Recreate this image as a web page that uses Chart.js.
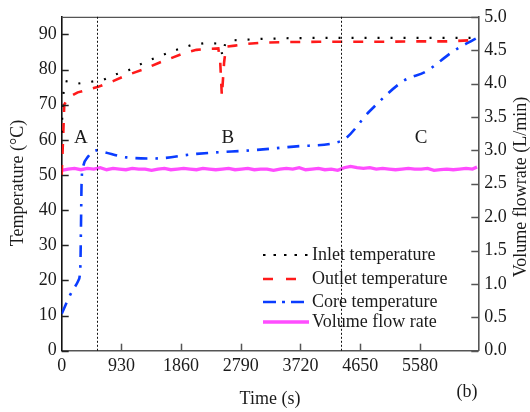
<!DOCTYPE html>
<html>
<head>
<meta charset="utf-8">
<script src="https://cdn.jsdelivr.net/npm/chart.js@4/dist/chart.umd.min.js"></script>
<style>
  html, body { margin: 0; padding: 0; background: #fff; }
  #wrap { width: 530px; height: 412px; position: relative; }
</style>
</head>
<body>
<div id="wrap"><canvas id="c" width="530" height="412"></canvas></div>
<script>
// Time axis ticks (s)
const timeTicks = [0, 930, 1860, 2790, 3720, 4650, 5580];
const tempTicks = [0, 10, 20, 30, 40, 50, 60, 70, 80, 90];
const flowTicks = [0, 0.5, 1, 1.5, 2, 2.5, 3, 3.5, 4, 4.5, 5];

// Inlet temperature (°C)
const inletTime = [0, 15, 35, 60, 250, 450, 650, 840, 1040, 1250, 1440, 1640, 1830, 2030, 2220, 2420, 2470, 2505, 2550, 2660, 2890, 3100, 3500, 4000, 4500, 5000, 5500, 6000, 6470];
const inletTemp = [62, 70, 75, 76.7, 76.0, 76.5, 77.1, 78.6, 79.8, 81.7, 83.2, 84.6, 85.9, 87.0, 87.5, 87.4, 86.5, 84.0, 87.6, 88.3, 88.5, 88.7, 88.9, 89.0, 89.0, 89.0, 89.0, 89.0, 89.0];

// Outlet temperature (°C)
const outletTime = [0, 10, 25, 40, 100, 250, 555, 800, 1000, 1270, 1500, 1700, 1900, 2100, 2300, 2440, 2470, 2495, 2530, 2560, 2700, 2900, 3100, 3500, 4000, 4500, 5000, 5500, 6000, 6470];
const outletTemp = [50, 55, 62, 70, 72, 73.5, 75, 76.7, 78.3, 80, 81.8, 83.2, 84.6, 85.6, 85.9, 86.0, 82, 72.5, 82, 86.5, 86.8, 87.3, 87.6, 87.8, 87.9, 87.9, 87.9, 88.0, 88.0, 88.4];

// Core temperature (°C)
const coreTime = [0, 130, 260, 290, 300, 310, 330, 415, 545, 675, 1010, 1450, 2100, 3090, 3700, 4356, 4800, 5320, 5680, 6100, 6420, 6470];
const coreTemp = [10.5, 15.8, 20, 23.5, 35, 48, 52, 55.3, 57, 56.4, 55, 54.7, 56, 57.2, 58.2, 59.7, 68.2, 76.7, 79.5, 85.2, 88.5, 89];

// Volume flow rate (L/min)
const flowTime = [0, 100, 200, 300, 400, 500, 600, 700, 800, 900, 1000, 1100, 1200, 1300, 1400, 1500, 1600, 1700, 1800, 1900, 2000, 2100, 2200, 2300, 2400, 2500, 2600, 2700, 2800, 2900, 3000, 3100, 3200, 3300, 3400, 3500, 3600, 3700, 3800, 3900, 4000, 4100, 4200, 4300, 4400, 4500, 4600, 4700, 4800, 4900, 5000, 5100, 5200, 5300, 5400, 5500, 5600, 5700, 5800, 5900, 6000, 6100, 6200, 6300, 6400, 6470];
const flowRate = [2.70, 2.72, 2.73, 2.71, 2.73, 2.72, 2.74, 2.71, 2.73, 2.72, 2.71, 2.73, 2.72, 2.72, 2.70, 2.72, 2.73, 2.71, 2.72, 2.73, 2.72, 2.71, 2.73, 2.72, 2.71, 2.72, 2.73, 2.71, 2.72, 2.73, 2.71, 2.72, 2.72, 2.70, 2.72, 2.73, 2.72, 2.74, 2.71, 2.72, 2.73, 2.71, 2.72, 2.70, 2.74, 2.76, 2.74, 2.73, 2.74, 2.72, 2.73, 2.72, 2.71, 2.72, 2.73, 2.72, 2.72, 2.73, 2.70, 2.71, 2.72, 2.71, 2.72, 2.73, 2.72, 2.75];

// Stage boundaries (s) and stage labels
const stageBounds = [555, 4356];
const stageLabels = [
  { text: 'A', t: 300, v: 60.5 },
  { text: 'B', t: 2590, v: 60.5 },
  { text: 'C', t: 5600, v: 60.5 }
];

const FONT = '"Liberation Serif", "DejaVu Serif", serif';
const TXT = '#1b1b1b';

const pts = (xs, ys) => xs.map((x, i) => ({ x, y: ys[i] }));

const decor = {
  id: 'decor',
  afterDatasetsDraw(chart) {
    const { ctx, chartArea: a, scales } = chart;
    const x = scales.x, y = scales.y, y2 = scales.y2;
    ctx.save();
    // top frame line
    ctx.strokeStyle = '#555';
    ctx.lineWidth = 1.2;
    ctx.beginPath(); ctx.moveTo(a.left, a.top + 0.5); ctx.lineTo(a.right, a.top + 0.5); ctx.stroke();

    // inward ticks
    ctx.lineWidth = 1.5;
    ctx.strokeStyle = '#555';
    timeTicks.forEach(t => {
      if (t === 0) return;
      const px = Math.round(x.getPixelForValue(t)) + 0.5;
      ctx.beginPath(); ctx.moveTo(px, a.bottom); ctx.lineTo(px, a.bottom - 7); ctx.stroke();
    });
    ctx.strokeStyle = '#222';
    tempTicks.forEach(v => {
      const py = Math.round(y.getPixelForValue(v)) + 0.5;
      ctx.beginPath(); ctx.moveTo(a.left, py); ctx.lineTo(a.left + 7, py); ctx.stroke();
    });
    ctx.strokeStyle = '#555';
    flowTicks.forEach(v => {
      const py = Math.round(y2.getPixelForValue(v)) + 0.5;
      ctx.beginPath(); ctx.moveTo(a.right, py); ctx.lineTo(a.right - 7, py); ctx.stroke();
    });

    // stage boundaries
    ctx.strokeStyle = '#111';
    ctx.lineWidth = 1;
    ctx.setLineDash([2, 2]);
    stageBounds.forEach(t => {
      const px = Math.round(x.getPixelForValue(t)) + 0.5;
      ctx.beginPath(); ctx.moveTo(px, a.top); ctx.lineTo(px, a.bottom); ctx.stroke();
    });
    ctx.setLineDash([]);

    // stage labels
    ctx.fillStyle = TXT;
    ctx.font = '19px ' + FONT;
    ctx.textAlign = 'center';
    ctx.textBaseline = 'middle';
    stageLabels.forEach(l => {
      ctx.fillText(l.text, x.getPixelForValue(l.t), y.getPixelForValue(l.v));
    });

    // legend
    ctx.font = '18px ' + FONT;
    ctx.textAlign = 'left';
    ctx.textBaseline = 'middle';
    const rows = [255, 279, 302, 322];
    chart.data.datasets.forEach((ds, i) => {
      const ry = rows[i];
      ctx.strokeStyle = ds.borderColor;
      ctx.lineWidth = ds.borderWidth;
      ctx.setLineDash(ds.legendDash || []);
      ctx.lineCap = 'butt';
      ctx.beginPath(); ctx.moveTo(263, ry); ctx.lineTo(309, ry); ctx.stroke();
      ctx.setLineDash([]);
      ctx.fillStyle = TXT;
      ctx.fillText(ds.label, 312, ry);
    });

    // axis titles
    ctx.font = '18px ' + FONT;
    ctx.textAlign = 'center';
    ctx.fillText('Time (s)', 270, 399);
    ctx.fillText('(b)', 467, 392);
    ctx.save();
    ctx.translate(18, 183);
    ctx.rotate(-Math.PI / 2);
    ctx.fillText('Temperature (\u00B0C)', 0, 0);
    ctx.restore();
    ctx.save();
    ctx.translate(521, 187);
    ctx.rotate(-Math.PI / 2);
    ctx.fillText('Volume flowrate (L/min)', 0, 0);
    ctx.restore();
    ctx.restore();
  }
};

new Chart(document.getElementById('c'), {
  type: 'line',
  data: {
    datasets: [
      {
        label: 'Inlet temperature',
        data: pts(inletTime, inletTemp),
        yAxisID: 'y',
        borderColor: '#000',
        borderWidth: 2.2,
        borderDash: [2, 11],
        legendDash: [2.5, 8],
        pointRadius: 0,
        tension: 0
      },
      {
        label: 'Outlet temperature',
        data: pts(outletTime, outletTemp),
        yAxisID: 'y',
        borderColor: '#ff1a1a',
        borderWidth: 2.6,
        borderDash: [10, 11],
        legendDash: [10, 13],
        pointRadius: 0,
        tension: 0
      },
      {
        label: 'Core temperature',
        data: pts(coreTime, coreTemp),
        yAxisID: 'y',
        borderColor: '#0a3cff',
        borderWidth: 2.6,
        borderDash: [12, 8, 2.5, 8],
        legendDash: [13, 6, 3, 6],
        pointRadius: 0,
        cubicInterpolationMode: 'monotone'
      },
      {
        label: 'Volume flow rate',
        data: pts(flowTime, flowRate),
        yAxisID: 'y2',
        borderColor: '#ff4dff',
        borderWidth: 3.3,
        legendDash: [],
        pointRadius: 0,
        tension: 0
      }
    ]
  },
  options: {
    responsive: false,
    animation: false,
    events: [],
    layout: { padding: { top: 16, left: 0, right: 0, bottom: 0 } },
    plugins: { legend: { display: false }, tooltip: { enabled: false } },
    scales: {
      x: {
        type: 'linear',
        min: 0,
        max: 6490,
        afterBuildTicks: s => { s.ticks = timeTicks.map(v => ({ value: v })); },
        afterFit: s => { s.height = 61.3; },
        grid: { display: true, drawOnChartArea: false, drawTicks: false },
        border: { display: true, color: '#555', width: 1.6 },
        ticks: { color: TXT, font: { family: FONT, size: 18 }, padding: 5, maxRotation: 0, autoSkip: false, callback: v => String(v) }
      },
      y: {
        position: 'left',
        min: 0,
        max: 95,
        afterBuildTicks: s => { s.ticks = tempTicks.map(v => ({ value: v })); },
        afterFit: s => { s.width = 61.7; },
        grid: { display: true, drawOnChartArea: false, drawTicks: false },
        border: { display: true, color: '#111', width: 1.6 },
        ticks: { color: TXT, font: { family: FONT, size: 18 }, padding: 5, callback: v => String(v) }
      },
      y2: {
        position: 'right',
        min: 0,
        max: 5,
        afterBuildTicks: s => { s.ticks = flowTicks.map(v => ({ value: v })); },
        afterFit: s => { s.width = 51.7; },
        grid: { display: true, drawOnChartArea: false, drawTicks: false },
        border: { display: true, color: '#555', width: 1.6 },
        ticks: { color: TXT, font: { family: FONT, size: 18 }, padding: 6, callback: v => v.toFixed(1) }
      }
    }
  },
  plugins: [decor]
});
</script>
</body>
</html>
